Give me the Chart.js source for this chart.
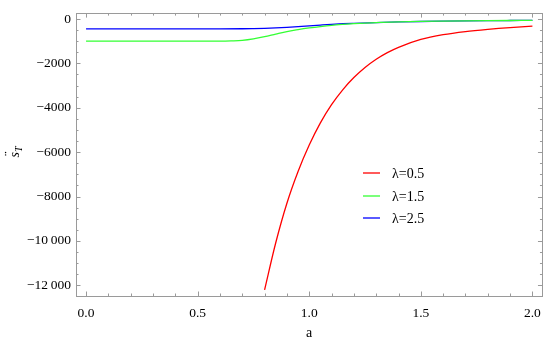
<!DOCTYPE html>
<html>
<head>
<meta charset="utf-8">
<script src="https://cdn.jsdelivr.net/npm/chart.js@4/dist/chart.umd.min.js"></script>
<style>
html,body{margin:0;padding:0;background:#fff;}
#wrap{width:550px;height:346px;}
</style>
</head>
<body>
<div id="wrap"><canvas id="c" width="550" height="346"></canvas></div>
<script>
// ---- data ----
const seriesLabels = ["λ=0.5", "λ=1.5", "λ=2.5"];
const seriesColors = ["#ff0000", "#33ff33", "#0000ff"];

const aRed = [0.8, 0.85, 0.9, 0.95, 1.0, 1.05, 1.1, 1.15, 1.2, 1.25, 1.3, 1.35, 1.4, 1.5, 1.6, 1.7, 1.8, 1.9, 2.0];
const sRed = [-12200, -10080, -8300, -6870, -5680, -4680, -3860, -3190, -2640, -2185, -1815, -1515, -1275, -920, -705, -565, -465, -385, -323];

const aGreen = [0, 0.2, 0.4, 0.6, 0.65, 0.7, 0.75, 0.8, 0.85, 0.9, 0.95, 1.0, 1.05, 1.1, 1.15, 1.2, 1.3, 1.4, 1.5, 1.6, 1.7, 1.8, 1.9, 2.0];
const sGreen = [-1000, -1000, -1000, -995, -985, -965, -900, -800, -680, -565, -480, -405, -340, -285, -245, -212, -162, -132, -112, -98, -86, -76, -68, -62];

const aBlue = [0, 0.2, 0.4, 0.6, 0.7, 0.75, 0.8, 0.85, 0.9, 0.95, 1.0, 1.05, 1.1, 1.15, 1.2, 1.3, 1.4, 1.5, 1.6, 1.7, 1.8, 1.9, 2.0];
const sBlue = [-442, -442, -442, -442, -440, -432, -420, -400, -375, -345, -310, -275, -242, -215, -195, -160, -134, -114, -99, -87, -77, -69, -62];

const xTicks = [0, 0.5, 1.0, 1.5, 2.0];
const xTickLabels = ["0.0", "0.5", "1.0", "1.5", "2.0"];
const yTicks = [0, -2000, -4000, -6000, -8000, -10000, -12000];
const yTickLabels = ["0", "\u22122000", "\u22124000", "\u22126000", "\u22128000", "\u221210\u2009000", "\u221212\u2009000"];

const xTitle = "a";

// ---- build ----
function pts(xs, ys){ return xs.map((x,i)=>({x:x, y:ys[i]})); }
const dataSets = [pts(aRed,sRed), pts(aGreen,sGreen), pts(aBlue,sBlue)];

const serif = "'Liberation Serif', 'DejaVu Serif', serif";

const framePlugin = {
  id: 'frame',
  afterDraw(chart){
    const ctx = chart.ctx;
    const a = chart.chartArea;
    const xs = chart.scales.x, ys = chart.scales.y;
    ctx.save();
    ctx.strokeStyle = '#9a9a9a';
    ctx.lineWidth = 1;
    ctx.strokeRect(Math.round(a.left)+0.5, Math.round(a.top)+0.5, Math.round(a.right-a.left), Math.round(a.bottom-a.top));
    ctx.beginPath();
    for (let k = 0; k <= 20; k++) {
      const v = k/10;
      const major = (k % 5 === 0);
      const len = major ? 4.5 : 2.5;
      const px = Math.round(xs.getPixelForValue(v)) + 0.5;
      ctx.moveTo(px, a.bottom); ctx.lineTo(px, a.bottom - len);
      ctx.moveTo(px, a.top); ctx.lineTo(px, a.top + len);
    }
    for (let k = 0; k <= 24; k++) {
      const v = -500*k;
      const major = (k % 4 === 0);
      const len = major ? 4.5 : 2.5;
      const py = Math.round(ys.getPixelForValue(v)) + 0.5;
      ctx.moveTo(a.left, py); ctx.lineTo(a.left + len, py);
      ctx.moveTo(a.right, py); ctx.lineTo(a.right - len, py);
    }
    ctx.stroke();

    ctx.fillStyle = '#000';
    ctx.font = "14px " + serif;
    ctx.textAlign = 'center';
    ctx.textBaseline = 'middle';
    ctx.fillText(xTitle, (a.left + a.right)/2, 333);

    ctx.save();
    ctx.translate(15, 152);
    ctx.rotate(-Math.PI/2);
    ctx.font = "italic 14px " + serif;
    ctx.textAlign = 'left';
    ctx.textBaseline = 'alphabetic';
    const sw = ctx.measureText("s").width;
    ctx.font = "italic 10px " + serif;
    const tw = ctx.measureText("T").width;
    const total = sw + tw;
    ctx.font = "italic 14px " + serif;
    ctx.fillText("s", -total/2, 4);
    ctx.fillText("\u00A8", -total/2 + 0.5, 0);
    ctx.font = "italic 10px " + serif;
    ctx.fillText("T", -total/2 + sw, 7);
    ctx.restore();

    const ly = [173, 196, 218];
    ctx.font = "14px " + serif;
    ctx.textAlign = 'left';
    ctx.textBaseline = 'middle';
    chart.data.datasets.forEach((d, i) => {
      ctx.strokeStyle = d.borderColor;
      ctx.lineWidth = 1.3;
      ctx.beginPath();
      ctx.moveTo(363, ly[i]); ctx.lineTo(380, ly[i]);
      ctx.stroke();
      ctx.fillStyle = '#000';
      ctx.fillText(d.label, 392, ly[i] + 1);
    });
    ctx.restore();
  }
};

new Chart(document.getElementById('c'), {
  type: 'scatter',
  data: {
    datasets: dataSets.map((d, i) => ({
      label: seriesLabels[i],
      data: d,
      showLine: true,
      borderColor: seriesColors[i],
      backgroundColor: seriesColors[i],
      borderWidth: 1.3,
      pointRadius: 0,
      cubicInterpolationMode: 'monotone',
      fill: false
    }))
  },
  plugins: [framePlugin],
  options: {
    responsive: false,
    animation: false,
    layout: { padding: { top: 8, right: 7, left: 0, bottom: 0 } },
    plugins: { legend: { display: false }, tooltip: { enabled: false } },
    scales: {
      x: {
        type: 'linear', min: -0.045, max: 2.045,
        grid: { display: false, drawTicks: false },
        border: { display: false },
        afterBuildTicks: s => { s.ticks = xTicks.map(v => ({ value: v })); },
        afterFit: s => { s.height = 50; },
        ticks: {
          padding: 9, color: '#000', maxRotation: 0, autoSkip: false,
          font: { family: serif, size: 13.5 },
          callback: (v) => { const i = xTicks.indexOf(v); return i >= 0 ? xTickLabels[i] : ''; }
        }
      },
      y: {
        type: 'linear', min: -12480, max: 265,
        grid: { display: false, drawTicks: false },
        border: { display: false },
        afterBuildTicks: s => { s.ticks = yTicks.map(v => ({ value: v })); },
        afterFit: s => { s.width = 76; },
        ticks: {
          padding: 5, color: '#000', autoSkip: false,
          font: { family: serif, size: 13.5 },
          callback: (v) => { const i = yTicks.indexOf(v); return i >= 0 ? yTickLabels[i] : ''; }
        }
      }
    }
  }
});
</script>
</body>
</html>
